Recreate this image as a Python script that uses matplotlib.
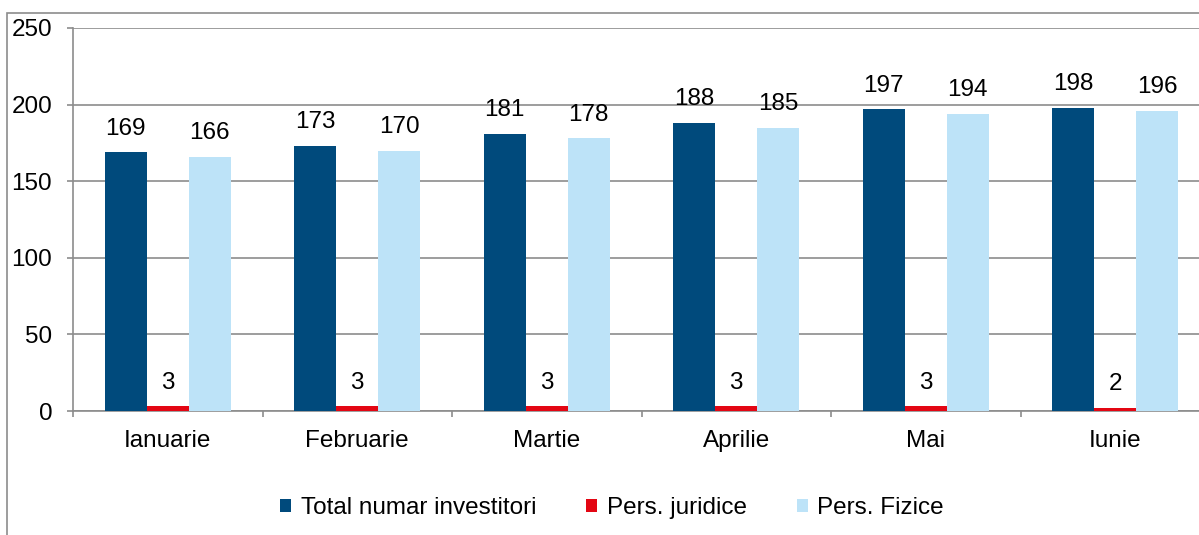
import matplotlib.pyplot as plt
import numpy as np
from matplotlib.patches import Rectangle

luni = ['Ianuarie', 'Februarie', 'Martie', 'Aprilie', 'Mai', 'Iunie']
total = [169, 173, 181, 188, 197, 198]
juridice = [3, 3, 3, 3, 3, 2]
fizice = [166, 170, 178, 185, 194, 196]

serii = ['Total numar investitori', 'Pers. juridice', 'Pers. Fizice']
culori = ['#004A7C', '#E30613', '#BDE3F8']

plt.rcParams['font.family'] = ['Liberation Sans', 'DejaVu Sans']
fs = 17.5

fig = plt.figure(figsize=(11.99, 5.35), dpi=100)
ax = fig.add_axes([73 / 1199, 1 - 411 / 535, 1137 / 1199, 383 / 535])

# chenarul exterior al graficului
fig.patches.append(Rectangle((7 / 1199, -0.2), 2, 1.2 - 13 / 535,
                             transform=fig.transFigure, fill=False,
                             edgecolor='#8C8C8C', linewidth=1.2))

x = np.arange(len(luni))
w = 42 / 189.5
for i, (vals, c, nume) in enumerate(zip([total, juridice, fizice], culori, serii)):
    bars = ax.bar(x + (i - 1) * w, vals, w, color=c, label=nume, zorder=3)
    for b, v in zip(bars, vals):
        ax.annotate(str(v), (b.get_x() + b.get_width() / 2, v),
                    xytext=(0, 9), textcoords='offset points',
                    ha='center', va='bottom', fontsize=fs)

ax.set_xlim(-0.5, len(luni) - 0.5)
ax.set_ylim(0, 250)
ax.set_yticks(range(0, 251, 50))
ax.yaxis.grid(True, color='#8C8C8C', linewidth=1.2, zorder=0)
ax.set_xticks(x)
ax.set_xticklabels(luni)
ax.set_xticks(np.arange(-0.5, len(luni), 1), minor=True)
ax.tick_params(axis='x', which='major', length=0, pad=14, labelsize=fs)
ax.tick_params(axis='x', which='minor', length=4.5, color='#8C8C8C', width=1.2)
ax.tick_params(axis='y', length=4.5, color='#8C8C8C', width=1.2, pad=10.5, labelsize=fs)
for s in ['top', 'right']:
    ax.spines[s].set_visible(False)
for s in ['left', 'bottom']:
    ax.spines[s].set_color('#8C8C8C')
    ax.spines[s].set_linewidth(1.2)

fig.legend(loc='center', bbox_to_anchor=(612 / 1199, 1 - 508 / 535), ncol=3,
           frameon=False, fontsize=fs, handlelength=0.45, handleheight=0.45,
           handletextpad=0.4, columnspacing=2.05)

fig.savefig('out.png', dpi=100)
